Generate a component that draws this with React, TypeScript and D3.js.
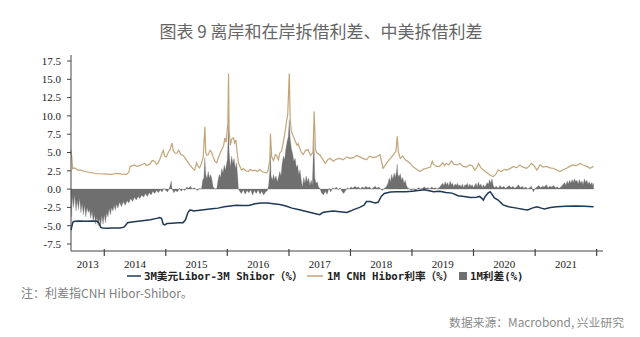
import React from "react";
import * as d3 from "d3";

// ---------- data (time as decimal year, value in %) ----------
const yearTicks = [2014, 2015, 2016, 2017, 2018, 2019, 2020, 2021, 2022];
const yearLabels = ["2013", "2014", "2015", "2016", "2017", "2018", "2019", "2020", "2021"];
const yTicks = [-7.5, -5.0, -2.5, 0.0, 2.5, 5.0, 7.5, 10.0, 12.5, 15.0, 17.5];

const cnhHibor1M: [number, number][] = [
  [2013.46, 5.3], [2013.475, 4.0], [2013.485, 2.8], [2013.52, 2.9], [2013.57, 2.6], [2013.62, 2.6],
  [2013.68, 2.4], [2013.75, 2.3], [2013.82, 2.2], [2013.88, 2.1], [2013.95, 2.1], [2014.03, 2.05],
  [2014.11, 2.0], [2014.17, 2.1], [2014.22, 2.15], [2014.28, 2.05], [2014.36, 2.0], [2014.40, 2.3],
  [2014.42, 3.1], [2014.46, 3.2], [2014.49, 3.3], [2014.53, 3.1], [2014.58, 3.2], [2014.62, 3.4],
  [2014.66, 3.5], [2014.69, 3.2], [2014.71, 3.3], [2014.74, 3.4], [2014.78, 3.9], [2014.82, 3.8],
  [2014.85, 3.4], [2014.87, 3.5], [2014.90, 4.0], [2014.93, 4.7], [2014.96, 5.3], [2014.98, 4.5],
  [2015.01, 4.4], [2015.04, 5.0], [2015.07, 5.4], [2015.10, 6.3], [2015.12, 5.3], [2015.15, 4.9],
  [2015.18, 4.9], [2015.21, 5.3], [2015.24, 4.8], [2015.28, 4.6], [2015.31, 4.3], [2015.34, 3.9],
  [2015.39, 3.3], [2015.42, 3.0], [2015.45, 2.7], [2015.47, 2.6], [2015.50, 3.6], [2015.52, 3.2],
  [2015.55, 2.9], [2015.58, 3.5], [2015.61, 4.5], [2015.635, 8.5], [2015.65, 5.0], [2015.67, 4.6],
  [2015.69, 4.7], [2015.72, 5.3], [2015.74, 5.1], [2015.77, 4.4], [2015.80, 3.8], [2015.83, 3.6],
  [2015.85, 4.2], [2015.88, 4.8], [2015.91, 5.4], [2015.94, 5.9], [2015.96, 7.0], [2015.98, 6.4],
  [2016.01, 9.0], [2016.02, 15.8], [2016.03, 8.0], [2016.05, 6.0], [2016.07, 6.8], [2016.10, 7.0],
  [2016.12, 6.3], [2016.14, 6.7], [2016.16, 5.0], [2016.18, 3.6], [2016.21, 3.0], [2016.23, 2.6],
  [2016.26, 2.8], [2016.30, 2.5], [2016.34, 2.4], [2016.37, 2.7], [2016.41, 2.5], [2016.45, 2.6],
  [2016.49, 2.4], [2016.53, 2.7], [2016.56, 2.4], [2016.60, 2.3], [2016.64, 2.2], [2016.66, 2.5],
  [2016.69, 4.0], [2016.70, 7.6], [2016.72, 4.4], [2016.75, 3.9], [2016.78, 4.7], [2016.80, 4.6],
  [2016.83, 4.0], [2016.85, 4.9], [2016.88, 5.2], [2016.91, 6.5], [2016.94, 8.0], [2016.96, 9.2],
  [2016.98, 10.2], [2017.005, 15.8], [2017.02, 9.5], [2017.04, 7.9], [2017.07, 7.2], [2017.10, 6.6],
  [2017.13, 6.0], [2017.15, 6.2], [2017.19, 5.2], [2017.23, 4.7], [2017.27, 5.3], [2017.31, 5.4],
  [2017.35, 4.6], [2017.39, 5.0], [2017.41, 10.6], [2017.43, 5.5], [2017.45, 5.0], [2017.50, 4.7],
  [2017.54, 4.2], [2017.59, 3.5], [2017.63, 4.0], [2017.67, 4.2], [2017.72, 3.8], [2017.77, 4.1],
  [2017.83, 4.2], [2017.88, 4.0], [2017.94, 4.4], [2017.99, 4.2], [2018.05, 4.3], [2018.10, 4.6],
  [2018.15, 4.4], [2018.20, 4.2], [2018.26, 4.0], [2018.31, 4.5], [2018.37, 4.3], [2018.42, 4.4],
  [2018.48, 4.7], [2018.53, 2.85], [2018.57, 3.3], [2018.61, 3.8], [2018.66, 4.3], [2018.70, 4.7],
  [2018.74, 5.2], [2018.76, 7.2], [2018.78, 5.0], [2018.81, 4.2], [2018.85, 4.5], [2018.89, 4.0],
  [2018.93, 3.8], [2018.97, 3.5], [2019.01, 3.1], [2019.05, 2.85], [2019.09, 2.6], [2019.13, 2.4],
  [2019.18, 2.7], [2019.24, 2.85], [2019.30, 3.0], [2019.33, 3.8], [2019.35, 3.4], [2019.40, 3.1],
  [2019.45, 3.1], [2019.50, 3.6], [2019.53, 3.2], [2019.56, 3.5], [2019.60, 3.3], [2019.64, 3.85],
  [2019.68, 3.4], [2019.73, 3.3], [2019.78, 3.5], [2019.83, 3.1], [2019.88, 3.0], [2019.94, 3.3],
  [2019.98, 3.2], [2020.02, 2.6], [2020.05, 2.9], [2020.08, 3.5], [2020.12, 2.9], [2020.16, 2.6],
  [2020.21, 2.3], [2020.27, 1.9], [2020.32, 1.7], [2020.36, 2.0], [2020.40, 2.6], [2020.45, 2.4],
  [2020.50, 2.7], [2020.54, 2.6], [2020.59, 2.8], [2020.65, 3.1], [2020.70, 2.9], [2020.75, 3.3],
  [2020.80, 3.0], [2020.86, 2.85], [2020.90, 3.1], [2020.94, 3.5], [2020.98, 3.2], [2021.03, 2.6],
  [2021.08, 3.3], [2021.13, 3.0], [2021.19, 3.1], [2021.24, 2.9], [2021.29, 2.85], [2021.35, 2.6],
  [2021.40, 2.4], [2021.45, 2.6], [2021.51, 2.85], [2021.56, 3.1], [2021.62, 3.3], [2021.67, 3.2],
  [2021.73, 3.5], [2021.78, 3.3], [2021.84, 3.1], [2021.89, 2.85], [2021.95, 3.1],
];

const liborShibor3M: [number, number][] = [
  [2013.46, -5.6], [2013.47, -5.2], [2013.49, -4.5], [2013.52, -4.4], [2013.60, -4.35], [2013.70, -4.4],
  [2013.80, -4.35], [2013.88, -4.4], [2013.91, -4.6], [2013.94, -5.2], [2013.97, -5.3], [2014.05, -5.35],
  [2014.15, -5.3], [2014.25, -5.3], [2014.32, -5.2], [2014.35, -4.9], [2014.38, -4.6], [2014.45, -4.5],
  [2014.55, -4.4], [2014.65, -4.3], [2014.75, -4.2], [2014.85, -4.0], [2014.90, -3.9], [2014.93, -4.0],
  [2014.96, -4.8], [2014.98, -4.9], [2015.02, -4.7], [2015.10, -4.65], [2015.20, -4.6], [2015.28, -4.6],
  [2015.32, -4.2], [2015.36, -3.2], [2015.39, -2.85], [2015.42, -2.9], [2015.45, -3.0], [2015.55, -2.9],
  [2015.65, -2.8], [2015.75, -2.7], [2015.85, -2.6], [2015.95, -2.4], [2016.05, -2.3], [2016.14, -2.2],
  [2016.25, -2.25], [2016.35, -2.25], [2016.45, -2.0], [2016.55, -1.9], [2016.65, -1.9], [2016.75, -2.0],
  [2016.85, -2.1], [2016.95, -2.3], [2017.05, -2.6], [2017.15, -2.8], [2017.25, -3.0], [2017.35, -3.2],
  [2017.45, -3.4], [2017.50, -3.5], [2017.55, -3.2], [2017.62, -3.1], [2017.72, -3.0], [2017.83, -3.1],
  [2017.94, -3.2], [2018.00, -3.0], [2018.05, -2.8], [2018.15, -2.5], [2018.22, -2.2], [2018.26, -1.7],
  [2018.32, -1.7], [2018.40, -1.9], [2018.45, -1.8], [2018.50, -1.0], [2018.55, -0.6], [2018.65, -0.4],
  [2018.75, -0.35], [2018.90, -0.35], [2019.00, -0.3], [2019.10, -0.2], [2019.20, -0.1], [2019.30, -0.25],
  [2019.35, -0.35], [2019.45, -0.3], [2019.55, -0.45], [2019.65, -0.55], [2019.75, -0.9], [2019.85, -1.0],
  [2019.95, -1.15], [2020.05, -1.1], [2020.10, -1.0], [2020.14, -1.3], [2020.16, -1.5], [2020.19, -1.0],
  [2020.24, -0.5], [2020.27, -0.35], [2020.30, -0.7], [2020.34, -1.2], [2020.40, -1.5], [2020.48, -2.15],
  [2020.57, -2.4], [2020.70, -2.6], [2020.82, -2.8], [2020.88, -2.85], [2020.95, -2.6], [2021.03, -2.4],
  [2021.10, -2.6], [2021.15, -2.7], [2021.25, -2.5], [2021.35, -2.4], [2021.50, -2.35], [2021.65, -2.3],
  [2021.80, -2.35], [2021.95, -2.4],
];

const spread1M: [number, number][] = [
  [2013.46, -0.5], [2013.47, -3.8], [2013.48, -1.0], [2013.50, -2.5], [2013.52, -0.8], [2013.54, -3.0],
  [2013.56, -1.5], [2013.58, -2.8], [2013.60, -1.2], [2013.62, -3.2], [2013.64, -2.0], [2013.66, -3.5],
  [2013.68, -2.2], [2013.70, -3.8], [2013.72, -2.5], [2013.74, -3.2], [2013.76, -2.8], [2013.78, -4.0],
  [2013.80, -3.0], [2013.82, -4.4], [2013.84, -3.5], [2013.86, -4.8], [2013.88, -3.8], [2013.90, -5.0],
  [2013.92, -4.0], [2013.94, -5.1], [2013.96, -3.6], [2013.98, -4.8], [2014.00, -3.5], [2014.02, -4.6],
  [2014.04, -3.2], [2014.06, -3.8], [2014.08, -2.6], [2014.10, -3.5], [2014.12, -2.5], [2014.14, -3.0],
  [2014.16, -2.2], [2014.18, -2.9], [2014.20, -2.0], [2014.22, -2.6], [2014.25, -1.8], [2014.28, -2.4],
  [2014.31, -1.7], [2014.34, -2.2], [2014.37, -1.6], [2014.40, -1.9], [2014.43, -1.3], [2014.46, -1.7],
  [2014.49, -1.1], [2014.52, -1.5], [2014.55, -1.0], [2014.58, -1.3], [2014.61, -0.8], [2014.64, -1.1],
  [2014.67, -0.6], [2014.70, -1.0], [2014.73, -0.5], [2014.76, -0.8], [2014.79, -0.3], [2014.82, -0.6],
  [2014.85, -0.2], [2014.88, -0.5], [2014.91, -0.1], [2014.94, -0.4], [2014.97, 0.1], [2015.00, -0.2],
  [2015.03, -0.4], [2015.06, 0.2], [2015.09, 1.1], [2015.10, 0.1], [2015.13, -0.5], [2015.16, -0.2],
  [2015.19, -0.4], [2015.22, 0.1], [2015.25, -0.3], [2015.28, 0.0], [2015.31, -0.2], [2015.34, 0.3],
  [2015.37, 0.1], [2015.40, 0.4], [2015.43, 0.0], [2015.46, 0.2], [2015.49, 0.0], [2015.52, -0.2],
  [2015.55, 0.1], [2015.58, 0.0], [2015.60, 1.2], [2015.62, 1.6], [2015.635, 4.3], [2015.65, 2.0],
  [2015.67, 1.4], [2015.69, 2.4], [2015.71, 1.5], [2015.73, 2.0], [2015.75, 1.3], [2015.77, 0.3],
  [2015.80, 0.0], [2015.83, 0.1], [2015.85, 1.2], [2015.87, 2.0], [2015.89, 1.6], [2015.91, 2.8],
  [2015.93, 2.2], [2015.95, 3.3], [2015.97, 2.6], [2016.00, 4.0], [2016.01, 6.0], [2016.02, 9.0],
  [2016.03, 5.0], [2016.05, 3.0], [2016.07, 4.5], [2016.09, 3.5], [2016.11, 4.2], [2016.13, 2.8],
  [2016.15, 3.6], [2016.17, 1.5], [2016.18, 0.0], [2016.20, -0.3], [2016.23, -0.6], [2016.26, -0.1],
  [2016.29, -0.7], [2016.32, -0.2], [2016.35, -0.5], [2016.38, -0.1], [2016.41, -0.8], [2016.44, -0.2],
  [2016.47, -0.6], [2016.50, -0.1], [2016.53, -0.7], [2016.56, -0.3], [2016.59, -0.8], [2016.62, -0.4],
  [2016.65, -0.2], [2016.67, 0.5], [2016.69, 2.5], [2016.70, 5.0], [2016.71, 1.8], [2016.73, 1.2],
  [2016.75, 2.0], [2016.77, 1.3], [2016.79, 1.8], [2016.81, 1.0], [2016.83, 1.6], [2016.85, 2.4],
  [2016.87, 1.8], [2016.89, 3.5], [2016.91, 4.5], [2016.93, 4.0], [2016.95, 5.5], [2016.97, 6.5],
  [2016.99, 7.2], [2017.005, 9.5], [2017.02, 6.8], [2017.04, 5.5], [2017.06, 4.8], [2017.08, 3.8],
  [2017.10, 4.2], [2017.12, 3.0], [2017.14, 3.3], [2017.16, 2.0], [2017.18, 2.6], [2017.20, 1.2],
  [2017.22, 0.3], [2017.24, 1.6], [2017.26, 0.8], [2017.28, 1.8], [2017.30, 1.0], [2017.32, 1.5],
  [2017.34, 0.5], [2017.36, 1.2], [2017.38, 0.6], [2017.405, 7.0], [2017.42, 1.5], [2017.44, 0.8],
  [2017.46, 1.0], [2017.48, 0.3], [2017.50, 0.1], [2017.53, -0.5], [2017.56, -0.8], [2017.59, -0.3],
  [2017.62, -0.7], [2017.65, 0.1], [2017.68, -0.4], [2017.71, 0.2], [2017.74, 0.0], [2017.77, 0.3],
  [2017.80, -0.1], [2017.83, 0.2], [2017.86, -0.3], [2017.89, -0.6], [2017.92, -0.2], [2017.95, 0.2],
  [2017.98, 0.0], [2018.01, 0.3], [2018.04, 0.1], [2018.07, 0.4], [2018.10, 0.2], [2018.13, 0.3],
  [2018.16, 0.0], [2018.19, 0.3], [2018.22, 0.1], [2018.25, 0.4], [2018.28, 0.2], [2018.31, 0.3],
  [2018.34, 0.0], [2018.37, 0.2], [2018.40, 0.4], [2018.43, 0.1], [2018.46, 0.3], [2018.49, 0.0],
  [2018.52, -0.2], [2018.55, 0.1], [2018.58, 0.3], [2018.61, 0.8], [2018.63, 1.5], [2018.65, 1.0],
  [2018.67, 2.0], [2018.69, 1.3], [2018.71, 2.2], [2018.73, 1.6], [2018.75, 2.5], [2018.76, 3.4],
  [2018.77, 2.0], [2018.79, 1.7], [2018.81, 2.1], [2018.83, 1.2], [2018.85, 1.6], [2018.87, 0.8],
  [2018.89, 1.2], [2018.91, 0.5], [2018.93, 0.2], [2018.96, 0.0], [2018.99, -0.2], [2019.02, 0.1],
  [2019.05, -0.3], [2019.08, 0.0], [2019.11, 0.2], [2019.14, 0.0], [2019.17, 0.1], [2019.20, 0.3],
  [2019.23, 0.1], [2019.26, 0.2], [2019.29, 0.0], [2019.32, 0.3], [2019.35, 0.1], [2019.38, 0.2],
  [2019.41, 0.0], [2019.44, 0.2], [2019.47, 0.5], [2019.50, 0.8], [2019.52, 0.5], [2019.54, 1.0],
  [2019.56, 0.6], [2019.58, 0.9], [2019.60, 0.4], [2019.62, 1.1], [2019.64, 0.6], [2019.66, 0.8],
  [2019.68, 0.3], [2019.70, 0.7], [2019.72, 0.5], [2019.74, 0.8], [2019.76, 0.4], [2019.78, 0.6],
  [2019.80, 0.3], [2019.82, 0.7], [2019.84, 0.2], [2019.86, 0.6], [2019.88, 0.5], [2019.90, 0.8],
  [2019.92, 0.3], [2019.94, 0.7], [2019.96, 0.4], [2019.98, 0.6], [2020.00, 0.2], [2020.02, 0.5],
  [2020.04, 0.8], [2020.06, 0.3], [2020.08, 1.0], [2020.10, 0.4], [2020.12, 0.7], [2020.14, 0.2],
  [2020.16, 0.6], [2020.18, 0.3], [2020.20, 0.5], [2020.22, 0.9], [2020.24, 0.6], [2020.26, 1.3],
  [2020.28, 0.8], [2020.30, 1.4], [2020.32, 0.5], [2020.34, 0.2], [2020.37, 0.4], [2020.40, 0.1],
  [2020.43, 0.5], [2020.46, 0.2], [2020.49, 0.4], [2020.52, 0.1], [2020.55, 0.3], [2020.58, 0.5],
  [2020.61, 0.2], [2020.64, 0.4], [2020.67, 0.1], [2020.70, 0.3], [2020.73, 0.6], [2020.76, 0.2],
  [2020.79, 0.4], [2020.82, 0.1], [2020.85, 0.3], [2020.88, 0.0], [2020.91, 0.2], [2020.94, 0.4],
  [2020.97, -0.4], [2021.00, 0.1], [2021.03, 0.3], [2021.06, 0.5], [2021.09, 0.2], [2021.12, 0.4],
  [2021.15, 0.3], [2021.18, 0.6], [2021.21, 0.2], [2021.24, 0.4], [2021.27, 0.3], [2021.30, 0.5],
  [2021.33, 0.2], [2021.36, 0.3], [2021.39, 0.1], [2021.42, 0.3], [2021.45, 0.6], [2021.48, 0.9],
  [2021.50, 0.5], [2021.52, 1.1], [2021.54, 0.7], [2021.56, 1.2], [2021.58, 0.8], [2021.60, 1.3],
  [2021.62, 0.9], [2021.64, 1.4], [2021.66, 1.0], [2021.68, 1.2], [2021.70, 0.7], [2021.72, 1.3],
  [2021.74, 0.8], [2021.76, 1.1], [2021.78, 0.6], [2021.80, 1.4], [2021.82, 0.9], [2021.84, 1.2],
  [2021.86, 0.7], [2021.88, 1.0], [2021.90, 0.6], [2021.92, 0.9], [2021.94, 0.5], [2021.95, 0.8],
];

const titleText = "图表 9 离岸和在岸拆借利差、中美拆借利差";
const legendLabels = ["3M美元Libor-3M Shibor（%）", "1M CNH Hibor利率（%）", "1M利差(%)"];
const noteText = "注：利差指CNH Hibor-Shibor。";
const sourceText = "数据来源：Macrobond, 兴业研究";

// ---------- helpers ----------
function toDate(dy: number): Date {
  const y = Math.floor(dy);
  const start = new Date(y, 0, 1).getTime();
  const end = new Date(y + 1, 0, 1).getTime();
  return new Date(start + (dy - y) * (end - start));
}

const COL_BLUE = "#1f3a55";
const COL_TAN = "#c2a579";
const COL_GRAY = "#6f6f6f";

export default function App() {
  const W = 640, H = 337;
  const x = d3.scaleTime().domain([toDate(2013.459), toDate(2022.103)]).range([71, 603]);
  const y = d3.scaleLinear().domain([-7.5, 17.5]).range([244, 61]);

  const line = d3.line<[number, number]>().x(d => x(toDate(d[0]))).y(d => y(d[1]));
  const area = d3.area<[number, number]>().x(d => x(toDate(d[0]))).y0(y(0)).y1(d => y(d[1]));

  const axisY = 251;
  const [d0, d1] = x.domain();
  const bounds = [d0, ...yearTicks.map(t => toDate(t)), d1];

  const serif = "'Liberation Serif', 'Times New Roman', serif";
  const mono = "'DejaVu Sans Mono', 'Noto Sans CJK SC', monospace";
  const sans = "'Noto Sans CJK SC', 'Noto Sans', sans-serif";

  return (
    <svg width={W} height={H} style={{ position: "absolute", left: 0, top: 0, background: "#fff" }}>
      <rect x={0} y={0} width={W} height={H} fill="#fff" />
      <text x={321} y={38} textAnchor="middle" fontFamily={sans} fontSize={17} fill="#666">{titleText}</text>

      {/* series */}
      <path d={area(spread1M) || ""} fill={COL_GRAY} stroke={COL_GRAY} strokeWidth={0.3} />
      <path d={line(cnhHibor1M) || ""} fill="none" stroke={COL_TAN} strokeWidth={1.2} />
      <path d={line(liborShibor3M) || ""} fill="none" stroke={COL_BLUE} strokeWidth={1.5} />

      {/* y axis */}
      <line x1={71} x2={71} y1={55} y2={axisY} stroke="#444" strokeWidth={1} />
      {yTicks.map(t => (
        <g key={t}>
          <line x1={67} x2={71} y1={y(t)} y2={y(t)} stroke="#444" />
          <text x={61} y={y(t) + 3.8} textAnchor="end" fontFamily={serif} fontSize={11} fill="#222">{t.toFixed(1)}</text>
        </g>
      ))}

      {/* x axis */}
      <line x1={71} x2={603} y1={axisY} y2={axisY} stroke="#444" strokeWidth={1} />
      {yearTicks.map(t => (
        <line key={t} x1={x(toDate(t))} x2={x(toDate(t))} y1={axisY - 2} y2={axisY + 5} stroke="#444" strokeWidth={1.2} />
      ))}
      {yearLabels.map((lab, i) => (
        <text key={lab} x={(x(bounds[i]) + x(bounds[i + 1])) / 2} y={268} textAnchor="middle" fontFamily={serif} fontSize={11} fill="#222">{lab}</text>
      ))}

      {/* legend */}
      <line x1={127} x2={141} y1={276} y2={276} stroke={COL_BLUE} strokeWidth={1.5} />
      <text x={144} y={280} fontFamily={mono} fontSize={10.7} fontWeight="bold" fill="#222">{legendLabels[0]}</text>
      <line x1={307} x2={323} y1={276} y2={276} stroke={COL_TAN} strokeWidth={1.5} />
      <text x={327} y={280} fontFamily={mono} fontSize={10.7} fontWeight="bold" fill="#222">{legendLabels[1]}</text>
      <rect x={459} y={272} width={8} height={8} fill={COL_GRAY} />
      <text x={470} y={280} fontFamily={mono} fontSize={10.7} fontWeight="bold" fill="#222">{legendLabels[2]}</text>

      {/* notes */}
      <text x={21} y={298} fontFamily={sans} fontSize={12} fill="#808080">{noteText}</text>
      <text x={624} y={327} textAnchor="end" fontFamily={sans} fontSize={11.8} fill="#8a8a8a">{sourceText}</text>
    </svg>
  );
}
